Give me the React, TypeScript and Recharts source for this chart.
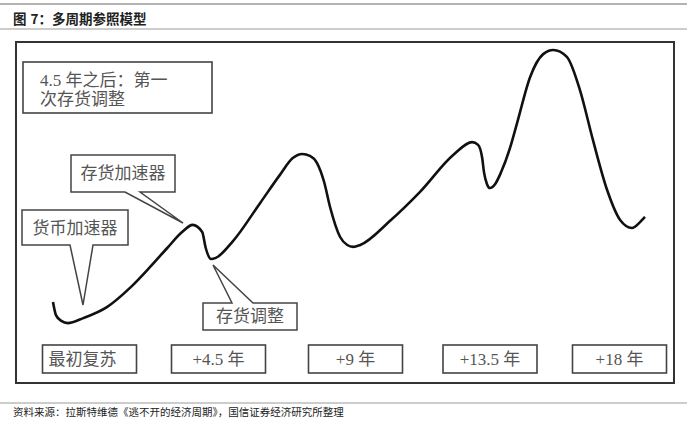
import React from 'react';
import { LineChart, Line, XAxis, YAxis } from 'recharts';

// cycle curve: t = position along the cycle (0-100), level = activity (0-100)
const cycleT = [
  0, 0.5, 1.4, 2.5, 5.1, 9.1, 13.0, 16.4, 19.3, 21.8,
  23.6, 25.2, 25.8, 26.7, 27.5, 30.4, 35.0, 38.3, 40.5, 42.1,
  43.4, 44.6, 45.8, 46.8, 48.5, 49.7, 50.7, 51.9, 56.9, 62.0,
  67.6, 70.8, 71.8, 72.5, 72.8, 73.3, 73.8, 74.7, 75.7, 77.2,
  78.4, 80.6, 82.8, 84.5, 86.8, 89.0, 91.2, 93.6, 95.8, 97.8,
  99.2, 100,
];
const cycleLevel = [
  8.4, 3.6, 1.5, 0.7, 2.5, 6.5, 13.5, 21.1, 28.0, 33.8,
  36.4, 33.8, 28.0, 24.0, 24.4, 30.5, 44.4, 54.5, 60.7, 62.2,
  61.5, 58.9, 52.0, 42.9, 32.0, 29.1, 28.4, 29.1, 37.8, 48.4,
  61.8, 66.5, 65.5, 60.7, 55.6, 51.3, 49.8, 51.3, 55.6, 64.4,
  73.5, 90.2, 98.5, 100, 97.5, 85.5, 67.3, 49.1, 38.2, 35.3,
  37.5, 39.3,
];

const stageLabels = ['最初复苏', '+4.5 年', '+9 年', '+13.5 年', '+18 年'];
const noteLines = ['4.5 年之后：第一', '次存货调整'];
const calloutLabels = ['货币加速器', '存货加速器', '存货调整'];

const titleHead = '图';
const titleRest = '7：多周期参照模型';
const source = '资料来源：拉斯特维德《逃不开的经济周期》，国信证券经济研究所整理';

const data = cycleT.map((t, i) => ({ t, level: cycleLevel[i] }));

const SERIF = "'Liberation Serif', 'Noto Sans CJK SC', serif";
const SANS = "'Noto Sans CJK SC', 'Noto Sans', sans-serif";
const BOX_STROKE = '#444';
const TEXT_GREY = '#555';

// box with a pointer notch, pointer on the bottom edge or (onTop) the top edge
const calloutPath = (
  x0: number, y0: number, x1: number, y1: number,
  bl: number, br: number, tx: number, ty: number, onTop = false
) => {
  if (onTop) {
    return `M${x0},${y0} L${bl},${y0} L${tx},${ty} L${br},${y0} L${x1},${y0} L${x1},${y1} L${x0},${y1} Z`;
  }
  return `M${x0},${y0} L${x1},${y0} L${x1},${y1} L${br},${y1} L${tx},${ty} L${bl},${y1} L${x0},${y1} Z`;
};

const Overlay = () => {
  const boxW = 94;
  const boxCenters = [89.5, 218.5, 355.5, 490, 619.5];
  return (
    <svg width={700} height={425} style={{ position: 'absolute', left: 0, top: 0 }}>
      <rect x={0} y={0} width={700} height={425} fill="#fff" />
      {/* header rules and title */}
      <line x1={0} x2={687} y1={4} y2={4} stroke="#9a9a9a" strokeWidth={1.5} />
      <text x={13} y={23.5} fontFamily={SANS} fontSize={13.5} fontWeight={700} fill="#222">
        {titleHead}
        <tspan dx={4}>{titleRest}</tspan>
      </text>
      <line x1={0} x2={687} y1={29} y2={29} stroke="#9a9a9a" strokeWidth={1.2} />

      {/* outer frame */}
      <rect x={16} y={42} width={658} height={341} fill="none" stroke="#333" strokeWidth={2} />

      {/* note box */}
      <rect x={23} y={62} width={189} height={51} fill="#fff" stroke={BOX_STROKE} strokeWidth={1.6} />
      {noteLines.map((s, i) => (
        <text key={s} x={40} y={86 + i * 19} fontFamily={SERIF} fontSize={17} fill={TEXT_GREY}>
          {s}
        </text>
      ))}

      {/* callouts */}
      <path d={calloutPath(22, 210, 128, 245, 70, 93, 83, 305)} fill="#fff" stroke={BOX_STROKE} strokeWidth={1.5} />
      <text x={75} y={234} textAnchor="middle" fontFamily={SERIF} fontSize={17} fill={TEXT_GREY}>{calloutLabels[0]}</text>

      <path d={calloutPath(71, 155, 175, 192, 125, 140, 183, 223)} fill="#fff" stroke={BOX_STROKE} strokeWidth={1.5} />
      <text x={123} y={179} textAnchor="middle" fontFamily={SERIF} fontSize={17} fill={TEXT_GREY}>{calloutLabels[1]}</text>

      <path d={calloutPath(203, 303, 297, 330, 232, 253, 213, 265, true)} fill="#fff" stroke={BOX_STROKE} strokeWidth={1.5} />
      <text x={250} y={322} textAnchor="middle" fontFamily={SERIF} fontSize={17} fill={TEXT_GREY}>{calloutLabels[2]}</text>

      {/* stage boxes */}
      {stageLabels.map((s, i) => (
        <g key={s}>
          <rect x={boxCenters[i] - boxW / 2} y={345} width={boxW} height={28} fill="#fff" stroke={BOX_STROKE} strokeWidth={1.6} />
          <text
            x={i === 0 ? boxCenters[i] - boxW / 2 + 6 : boxCenters[i]}
            y={365}
            textAnchor={i === 0 ? 'start' : 'middle'}
            fontFamily={SERIF}
            fontSize={17}
            fill={TEXT_GREY}
          >
            {s}
          </text>
        </g>
      ))}

      {/* source */}
      <line x1={0} x2={687} y1={403} y2={403} stroke="#9a9a9a" strokeWidth={1} />
      <text x={13} y={416} fontFamily={SANS} fontSize={10.5} fill="#222">
        {source}
      </text>
    </svg>
  );
};

export default function App() {
  return (
    <div style={{ position: 'absolute', left: 0, top: 0, width: 700, height: 425, background: '#fff' }}>
      <Overlay />
      <div style={{ position: 'absolute', left: 0, top: 0 }}>
        <LineChart width={700} height={425} data={data} margin={{ top: 50, right: 55, bottom: 100, left: 53 }}>
          <XAxis type="number" dataKey="t" domain={[0, 100]} hide />
          <YAxis type="number" domain={[0, 100]} hide />
          <Line
            type="monotone"
            dataKey="level"
            stroke="#111"
            strokeWidth={2.6}
            dot={false}
            activeDot={false}
            isAnimationActive={false}
          />
        </LineChart>
      </div>
    </div>
  );
}
